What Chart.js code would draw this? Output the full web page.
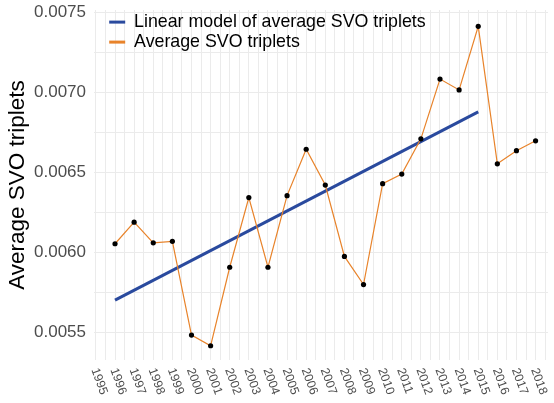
<!DOCTYPE html>
<html>
<head>
<meta charset="utf-8">
<script src="https://cdn.jsdelivr.net/npm/chart.js@4"></script>
<style>
  body { margin: 0; background: #fff; }
</style>
</head>
<body>
<canvas id="chart" width="554" height="403"></canvas>
<script>
let years = [1996, 1997, 1998, 1999, 2000, 2001, 2002, 2003, 2004, 2005, 2006, 2007,
  2008, 2009, 2010, 2011, 2012, 2013, 2014, 2015, 2016, 2017, 2018];
let avgTriplets = [0.006054, 0.006189, 0.00606, 0.006069, 0.005483, 0.005416, 0.005907,
  0.006343, 0.005907, 0.006355, 0.006645, 0.006421, 0.005975, 0.005799, 0.00643,
  0.00649, 0.00671, 0.007084, 0.007016, 0.007414, 0.006554, 0.006636, 0.006698];
let trendYears = [1996, 2015];
let trendValues = [0.005701, 0.006879];
let yearTicks = [1995, 1996, 1997, 1998, 1999, 2000, 2001, 2002, 2003, 2004, 2005, 2006,
  2007, 2008, 2009, 2010, 2011, 2012, 2013, 2014, 2015, 2016, 2017, 2018];

let fontFamily = "'Liberation Sans', Arial, sans-serif";
let blue = "#2a4a9e";
let orange = "#e8832a";

let avgPoints = years.map((y, i) => ({ x: y, y: avgTriplets[i] }));
let trendPoints = trendYears.map((y, i) => ({ x: y, y: trendValues[i] }));

// year labels are tilted clockwise, which the tick options can't do
let yearLabels = {
  id: "yearLabels",
  afterDraw(chart) {
    let ctx = chart.ctx;
    let xs = chart.scales.x;
    ctx.save();
    ctx.fillStyle = "#4d4d4d";
    ctx.font = "12.3px " + fontFamily;
    ctx.textAlign = "left";
    ctx.textBaseline = "middle";
    for (let year of yearTicks) {
      let px = xs.getPixelForValue(year);
      ctx.save();
      ctx.translate(px - 1.5, xs.top + 8.5);
      ctx.rotate((70 * Math.PI) / 180);
      ctx.fillText(String(year), 0, 0);
      ctx.restore();
    }
    ctx.restore();
  },
};

// legend sits inside the panel, a bit in from the corner
let legendNudge = {
  id: "legendNudge",
  afterLayout(chart) {
    chart.legend.left += 13;
    chart.legend.right += 13;
    chart.legend.top += 11;
    chart.legend.bottom += 11;
  },
};

new Chart(document.getElementById("chart"), {
  type: "line",
  data: {
    datasets: [
      {
        label: "Average SVO triplets",
        data: avgPoints,
        borderColor: orange,
        borderWidth: 1.2,
        pointRadius: 2.6,
        pointBackgroundColor: "#000",
        pointBorderWidth: 0,
        tension: 0,
      },
      {
        label: "Linear model of average SVO triplets",
        data: trendPoints,
        borderColor: blue,
        borderWidth: 3,
        pointRadius: 0,
        tension: 0,
      },
    ],
  },
  options: {
    responsive: false,
    animation: false,
    layout: { padding: { left: 0, top: 10, right: 6, bottom: 0 } },
    plugins: {
      tooltip: { enabled: false },
      legend: {
        position: "chartArea",
        align: "start",
        labels: {
          color: "#000",
          font: { family: fontFamily, size: 17.8 },
          boxWidth: 16,
          boxHeight: 3,
          padding: 2.2,
          generateLabels: () => [
            { text: "Linear model of average SVO triplets", fillStyle: blue, strokeStyle: blue, lineWidth: 0 },
            { text: "Average SVO triplets", fillStyle: orange, strokeStyle: orange, lineWidth: 0 },
          ],
        },
      },
    },
    scales: {
      x: {
        type: "linear",
        min: 1994.9,
        max: 2018.65,
        afterFit(scale) {
          scale.height = 43;
          scale.paddingLeft = 0;
          scale.paddingRight = 0;
        },
        border: { display: false },
        grid: { color: "#ebebeb", lineWidth: 1, drawTicks: false },
        ticks: { display: false, stepSize: 0.5, includeBounds: false, autoSkip: false },
      },
      y: {
        min: 0.005327,
        max: 0.007516,
        afterFit(scale) {
          scale.width = 94;
          scale.paddingTop = 0;
          scale.paddingBottom = 0;
        },
        border: { display: false },
        grid: { color: "#ebebeb", lineWidth: 1, drawTicks: false },
        title: {
          display: true,
          text: "Average SVO triplets",
          color: "#000",
          font: { family: fontFamily, size: 22.5, lineHeight: 1.2 },
          padding: { top: 4, bottom: 0 },
        },
        ticks: {
          stepSize: 0.00025,
          includeBounds: false,
          autoSkip: false,
          padding: 8,
          color: "#4d4d4d",
          font: { family: fontFamily, size: 17 },
          callback: (v) => (Math.round(v * 10000) % 5 === 0 ? v.toFixed(4) : ""),
        },
      },
    },
  },
  plugins: [yearLabels, legendNudge],
});
</script>
</body>
</html>
